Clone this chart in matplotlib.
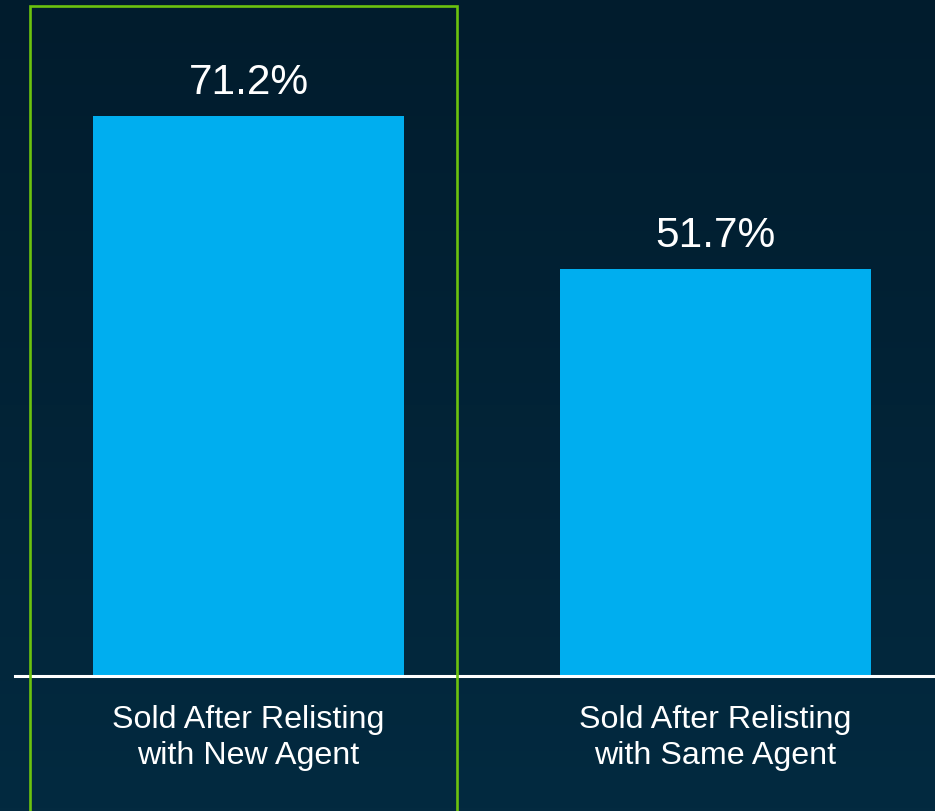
import matplotlib.pyplot as plt
import matplotlib.patches as patches
from matplotlib.colors import LinearSegmentedColormap
import numpy as np

plt.rcParams['font.family'] = ['Liberation Sans', 'DejaVu Sans']

# Share of relisted homes that sold
categories = ['Sold After Relisting\nwith New Agent', 'Sold After Relisting\nwith Same Agent']
values = [71.2, 51.7]
labels = ['71.2%', '51.7%']

W, H = 935, 812
fig = plt.figure(figsize=(W / 100, H / 100), dpi=100)

# dark navy background, slightly lighter towards the bottom
bg = fig.add_axes([0, 0, 1, 1])
grad = np.linspace(0, 1, 256).reshape(-1, 1)
cmap = LinearSegmentedColormap.from_list('bg', ['#011c2d', '#032a40'])
bg.imshow(grad, aspect='auto', cmap=cmap, extent=[0, 1, 0, 1], origin='upper')
bg.set_axis_off()

# axes placed so the baseline sits at y=677 px
base_px = 677
ax = fig.add_axes([15 / W, (H - base_px) / H, (W - 15) / W, base_px / H])
ax.patch.set_alpha(0)
px_per_unit = 560 / 71.2
ax.set_ylim(0, base_px / px_per_unit)
spacing = 466.5
ax.set_xlim(-233.5 / spacing, (W - 248.5) / spacing)

x = np.arange(len(values))
ax.bar(x, values, width=311 / spacing, color='#00aeef', zorder=2)
for xi, v, lab in zip(x, values, labels):
    ax.annotate(lab, (xi, v), xytext=(0, 10), textcoords='offset points',
                ha='center', va='bottom', color='white', fontsize=30.5)

ax.axhline(0, color='white', lw=2.2, zorder=3, clip_on=False)
for s in ax.spines.values():
    s.set_visible(False)
ax.set_xticks([])
ax.set_yticks([])

# category labels below the baseline
for xi, cat in zip(x, categories):
    ax.annotate(cat, (xi, 0), xytext=(0, -20), textcoords='offset points',
                ha='center', va='top', color='white', fontsize=23.2, linespacing=1.29)

# green highlight box around the first bar
fig.patches.append(patches.Rectangle((30 / W, -0.01), 427 / W, (H - 7) / H + 0.01,
                                     transform=fig.transFigure, fill=False,
                                     edgecolor='#6cc20e', lw=1.9, zorder=5))

fig.savefig('out.png', dpi=100)
